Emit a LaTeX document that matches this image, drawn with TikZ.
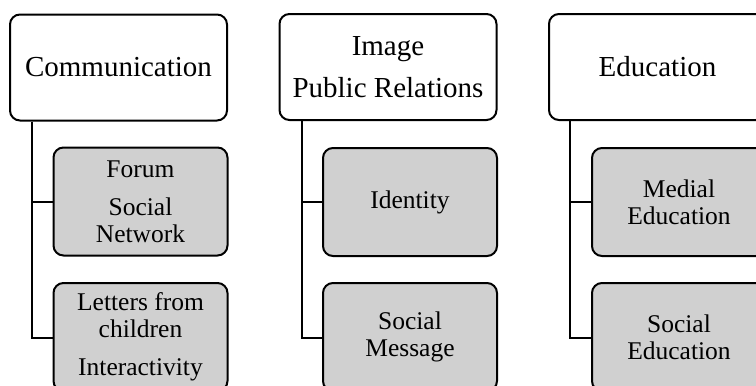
\documentclass[tikz,border=0pt]{standalone}
\usepackage{fontspec}
\setmainfont{Liberation Serif}
\definecolor{boxgray}{RGB}{208,208,208}
\tikzset{
  headbox/.style={draw=black, line width=2pt, rounded corners=10pt, fill=white,
    minimum width=217pt, minimum height=106pt, align=center, inner sep=0pt,
    font=\fontsize{29}{42}\selectfont},
  childbox/.style={draw=black, line width=2pt, rounded corners=10pt, fill=boxgray,
    minimum width=174pt, minimum height=108pt, align=center, inner sep=0pt,
    font=\fontsize{25.5}{27}\selectfont},
  link/.style={draw=black, line width=2pt}
}
\begin{document}
\begin{tikzpicture}[x=1pt,y=-1pt]
\useasboundingbox (0,0) rectangle (756,386);
\clip (0,0) rectangle (756,386);
% headers
\node[headbox] (h1) at (118.5,67.5) {Communication};
\node[headbox] (h2) at (388,67) {Image\\Public Relations};
\node[headbox] (h3) at (657.5,67) {Education};
% children column 1
\node[childbox] (c11) at (140.5,201.5) {Forum\\[11pt]Social\\Network};
\node[childbox] (c12) at (140.5,337) {Letters from\\children\\[11pt]Interactivity};
% children column 2
\node[childbox] (c21) at (410,202) {Identity};
\node[childbox] (c22) at (410,337) {Social\\Message};
% children column 3
\node[childbox] (c31) at (679,202) {Medial\\Education};
\node[childbox] (c32) at (679,337) {Social\\Education};
% connectors
\draw[link] ([xshift=23pt]h1.south west) |- ([yshift=-1pt]c12.west);
\draw[link] ([xshift=23pt]h1.south west) |- (c11.west);
\draw[link] ([xshift=23pt]h2.south west) |- ([yshift=-1pt]c22.west);
\draw[link] ([xshift=23pt]h2.south west) |- (c21.west);
\draw[link] ([xshift=22pt]h3.south west) |- ([yshift=-1pt]c32.west);
\draw[link] ([xshift=22pt]h3.south west) |- (c31.west);
\end{tikzpicture}
\end{document}
